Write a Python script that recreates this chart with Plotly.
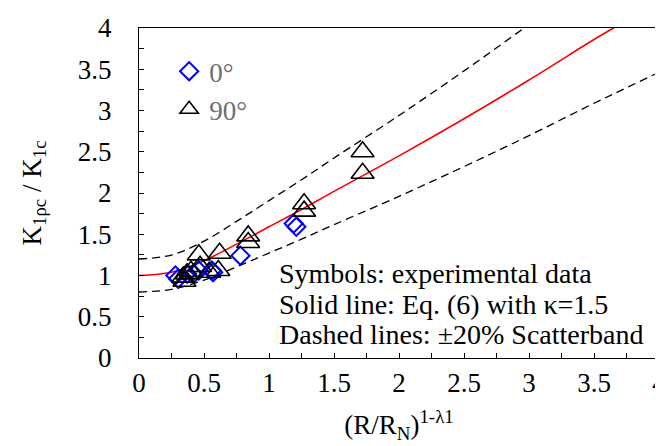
import plotly.graph_objects as go

# ---- data ----
curve_x = [0.0, 0.25, 0.5, 0.75, 1.0, 1.25, 1.5, 2.0, 2.5, 3.0, 3.5, 3.65, 4.0]
curve_y = [1.0, 1.04, 1.18, 1.38, 1.59, 1.80, 2.02, 2.45, 2.90, 3.37, 3.86, 4.0, 4.33]
band_hi = 1.2
band_lo = 0.8

dia_x = [0.28, 0.30, 0.37, 0.42, 0.46, 0.56, 0.57, 0.78, 1.19, 1.21]
dia_y = [1.00, 0.96, 1.02, 1.02, 1.06, 1.06, 1.04, 1.24, 1.63, 1.59]

tri_x = [0.34, 0.35, 0.37, 0.40, 0.46, 0.47, 0.54, 0.61, 0.62, 0.84, 0.84, 1.27, 1.27, 1.72, 1.72]
tri_y = [0.98, 0.93, 1.02, 1.05, 1.25, 1.11, 1.04, 1.06, 1.27, 1.48, 1.40, 1.87, 1.78, 2.50, 2.24]

x_ticks = [0, 0.5, 1, 1.5, 2, 2.5, 3, 3.5, 4]
y_ticks = [0, 0.5, 1, 1.5, 2, 2.5, 3, 3.5, 4]

notes = ["Symbols: experimental data",
         "Solid line: Eq. (6) with \u03ba=1.5",
         "Dashed lines: \u00b120% Scatterband"]

FONT = "Liberation Serif"

fig = go.Figure()
fig.add_trace(go.Scatter(x=curve_x, y=[v * band_hi for v in curve_y], mode="lines",
                         line=dict(color="black", width=1.3, dash="8px,5px", shape="spline"),
                         showlegend=False, hoverinfo="skip"))
fig.add_trace(go.Scatter(x=curve_x, y=[v * band_lo for v in curve_y], mode="lines",
                         line=dict(color="black", width=1.3, dash="8px,5px", shape="spline"),
                         showlegend=False, hoverinfo="skip"))
fig.add_trace(go.Scatter(x=curve_x, y=curve_y, mode="lines",
                         line=dict(color="#ff0000", width=1.6, shape="spline"),
                         showlegend=False, hoverinfo="skip"))
fig.add_trace(go.Scatter(x=dia_x, y=dia_y, mode="markers", name="0\u00b0",
                         marker=dict(symbol="diamond-open", size=14, color="#0000ff",
                                     line=dict(color="#0000ff", width=2))))
fig.add_trace(go.Scatter(x=tri_x, y=tri_y, mode="markers", name="90\u00b0",
                         marker=dict(symbol="triangle-up-open", size=20, color="black",
                                     line=dict(color="black", width=1.6))))

for i, t in enumerate(notes):
    fig.add_annotation(xref="paper", yref="paper", x=0.266, y=[0.257, 0.163, 0.071][i],
                       xanchor="left", yanchor="middle", text=t, showarrow=False,
                       font=dict(family=FONT, size=28, color="black"))

axis_common = dict(showline=True, linecolor="black", linewidth=1.3, mirror=True,
                   ticks="inside", ticklen=5, tickcolor="black", tickwidth=1.2,
                   showgrid=False, zeroline=False,
                   tickfont=dict(family=FONT, size=27, color="black"),
                   minor=dict(dtick=0.25, ticks="inside", ticklen=5, tickcolor="black",
                              tickwidth=1.2, showgrid=False))

fig.update_xaxes(range=[0, 4], tickvals=x_ticks, ticktext=[f"{v:g}" for v in x_ticks],
                 ticklabeloverflow="allow",
                 title=dict(text="(R/R<sub>N</sub>)<sup>1-\u03bb1</sup>",
                            font=dict(family=FONT, size=27, color="black"), standoff=18),
                 **axis_common)
fig.update_yaxes(range=[0, 4], tickvals=y_ticks, ticktext=[f"{v:g}" for v in y_ticks],
                 ticklabelstandoff=21,
                 title=dict(text="K<sub>1\u03c1c</sub> / K<sub>1c</sub>",
                            font=dict(family=FONT, size=27, color="black"), standoff=28),
                 **axis_common)

fig.update_layout(width=663, height=446, margin=dict(l=131, r=5, t=16, b=96),
                  font=dict(family=FONT),
                  plot_bgcolor="white", paper_bgcolor="white",
                  legend=dict(x=0.058, y=0.942, xanchor="left", yanchor="top",
                              bgcolor="rgba(0,0,0,0)", traceorder="normal",
                              font=dict(family=FONT, size=27, color="#6e6e6e")),
                  showlegend=True)

fig.write_html("out.html")
